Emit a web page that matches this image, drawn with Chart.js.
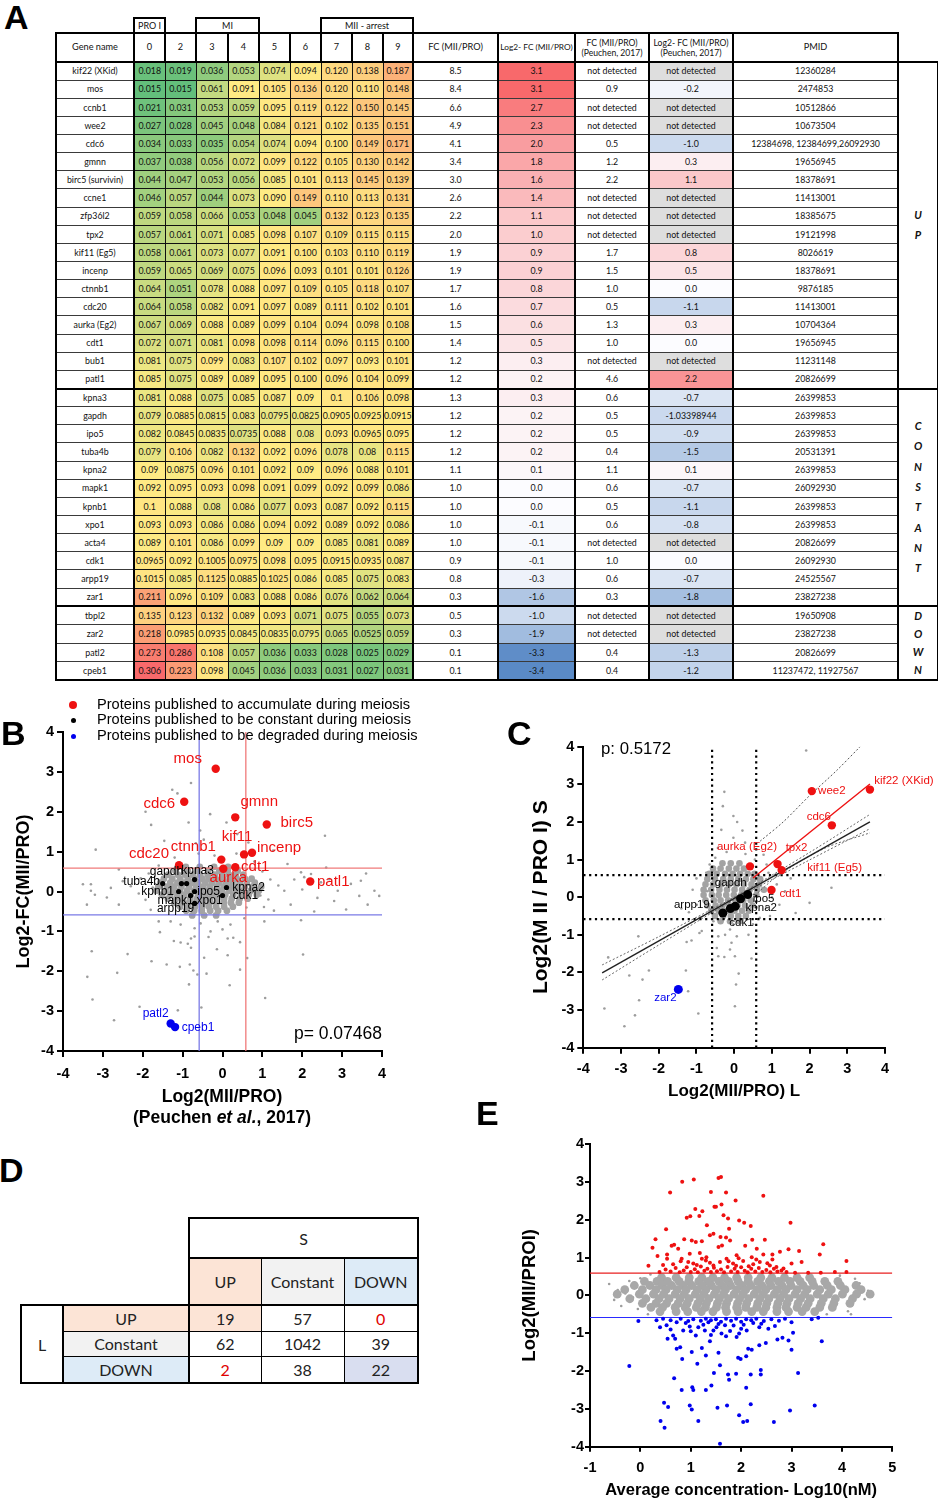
<!DOCTYPE html>
<html lang="en">
<head>
  <meta charset="UTF-8">
  <title>Protein levels during meiosis (A-E)</title>
  <script src="https://cdn.jsdelivr.net/npm/chart.js"></script>
  <style>
    * { margin: 0; padding: 0; box-sizing: border-box; }
    body { position: relative; width: 938px; height: 1500px; background: #fff; font-family: 'Liberation Sans', Arial, sans-serif; color: #000; overflow: hidden; }
    .letter { position: absolute; font-size: 34px; line-height: 34px; font-weight: bold; }
    .txt { position: absolute; white-space: nowrap; }
    canvas { position: absolute; }

    /* panel A table */
    #tableA { position: absolute; left: 55px; top: 17px; border-collapse: collapse; table-layout: fixed; width: 882px; font-family: Lato, sans-serif; font-size: 8.8px; color: #111; }
    #tableA td { padding: 0; text-align: center; white-space: nowrap; overflow: hidden; border: 1px solid #3a3a3a; line-height: 1.1; }
    #tableA tr.grp { height: 15px; }
    #tableA tr.grp td { border: none; font-size: 9px; }
    #tableA tr.grp td.box { border: 2px solid #000; }
    #tableA tr.head { height: 29px; }
    #tableA tr.head td { border: 2px solid #000; font-size: 9.2px; }
    #tableA tr.head td.narrow { font-size: 8.3px; }
    #tableA tr.head td.two { font-size: 8.6px; line-height: 10px; }
    #tableA tr.head td.blank { border: none; }
    #tableA tr.row { height: 18.15px; }
    #tableA td.heat { border-color: #111; }
    #tableA td.tl { border-left: 2px solid #000; }
    #tableA td.side { border: 2px solid #000; font-weight: bold; font-style: italic; font-size: 11px; }
    #tableA tr.gstart td { border-top: 2.5px solid #000; }
    #tableA tr.last td { border-bottom: 2px solid #000; }

    /* panel D table */
    #tableD { position: absolute; left: 20px; top: 1217px; border-collapse: collapse; table-layout: fixed; width: 397px; font-family: Lato, sans-serif; font-size: 16px; color: #222; }
    #tableD td { padding: 0; text-align: center; border: 1px solid #000; }
    #tableD td.none { border: none; }
    #tableD td.thick { border: 2px solid #000; }
    #tableD td.tl { border-left: 2px solid #000; }
    #tableD td.tr { border-right: 2px solid #000; }
    #tableD tr.bodytop td { border-top: 2px solid #000; }
    #tableD tr.bodyend td { border-bottom: 2px solid #000; }
  </style>
</head>

<body>
  <table id="tableA"></table>
  <table id="tableD"></table>

  <canvas id="chartB" width="440" height="450" style="left:0; top:690px;"></canvas>
  <canvas id="chartC" width="438" height="420" style="left:500px; top:690px;"></canvas>
  <canvas id="chartE" width="448" height="400" style="left:490px; top:1100px;"></canvas>

  <!-- legend of panel B -->
  <div class="txt" style="left:69px; top:701px; width:8px; height:8px; border-radius:50%; background:#ee1111;"></div>
  <div class="txt" style="left:70.5px; top:718px; width:5px; height:5px; border-radius:50%; background:#000;"></div>
  <div class="txt" style="left:70.5px; top:733.5px; width:5px; height:5px; border-radius:50%; background:#0000ee;"></div>
  <div class="txt" style="left:97px; top:697px; font-size:14.6px; line-height:15.4px;">
    Proteins published to accumulate during meiosis<br>
    Proteins published to be constant during meiosis<br>
    Proteins published to be degraded during meiosis
  </div>

  <div class="txt" style="left:22px; top:1086px; width:400px; text-align:center; font-size:17.5px; line-height:21px; font-weight:bold;">
    Log2(MII/PRO)<br>(Peuchen <i>et al.</i>, 2017)
  </div>
  <div class="txt" style="left:232px; top:1023px; width:150px; text-align:right; font-size:17.5px; line-height:21px;">p= 0.07468</div>
  <div class="txt" style="left:601px; top:739px; font-size:16.8px; line-height:20px;">p: 0.5172</div>

  <div class="letter" style="left:4px; top:0px;">A</div>
  <div class="letter" style="left:1px; top:716px;">B</div>
  <div class="letter" style="left:507px; top:716px;">C</div>
  <div class="letter" style="left:-1px; top:1153px;">D</div>
  <div class="letter" style="left:476px; top:1096px;">E</div>

  <script>
    // ---------- Panel A: table data ----------
    const genes = ['kif22 (XKid)', 'mos', 'ccnb1', 'wee2', 'cdc6', 'gmnn', 'birc5 (survivin)', 'ccne1', 'zfp36l2', 'tpx2',
      'kif11 (Eg5)', 'incenp', 'ctnnb1', 'cdc20', 'aurka (Eg2)', 'cdt1', 'bub1', 'patl1',
      'kpna3', 'gapdh', 'ipo5', 'tuba4b', 'kpna2', 'mapk1', 'kpnb1', 'xpo1', 'acta4', 'cdk1', 'arpp19', 'zar1',
      'tbpl2', 'zar2', 'patl2', 'cpeb1'];
    const timepoints = ['0', '2', '3', '4', '5', '6', '7', '8', '9'];
    const groupNames = ['UP', 'CONSTANT', 'DOWN'];
    const groupSizes = [18, 12, 4];

    // relative abundance per timepoint (text kept as printed)
    const heatValues = [
      ['0.018', '0.019', '0.036', '0.053', '0.074', '0.094', '0.120', '0.138', '0.187'],
      ['0.015', '0.015', '0.061', '0.091', '0.105', '0.136', '0.120', '0.110', '0.148'],
      ['0.021', '0.031', '0.053', '0.059', '0.095', '0.119', '0.122', '0.150', '0.145'],
      ['0.027', '0.028', '0.045', '0.048', '0.084', '0.121', '0.102', '0.135', '0.151'],
      ['0.034', '0.033', '0.035', '0.054', '0.074', '0.094', '0.100', '0.149', '0.171'],
      ['0.037', '0.038', '0.056', '0.072', '0.099', '0.122', '0.105', '0.130', '0.142'],
      ['0.044', '0.047', '0.053', '0.056', '0.085', '0.101', '0.113', '0.145', '0.139'],
      ['0.046', '0.057', '0.044', '0.073', '0.090', '0.149', '0.110', '0.113', '0.131'],
      ['0.059', '0.058', '0.066', '0.053', '0.048', '0.045', '0.132', '0.123', '0.135'],
      ['0.057', '0.061', '0.071', '0.085', '0.098', '0.107', '0.109', '0.115', '0.115'],
      ['0.058', '0.061', '0.073', '0.077', '0.091', '0.100', '0.103', '0.110', '0.119'],
      ['0.059', '0.065', '0.069', '0.075', '0.096', '0.093', '0.101', '0.101', '0.126'],
      ['0.064', '0.051', '0.078', '0.088', '0.097', '0.109', '0.105', '0.118', '0.107'],
      ['0.064', '0.058', '0.082', '0.091', '0.097', '0.089', '0.111', '0.102', '0.101'],
      ['0.067', '0.069', '0.088', '0.089', '0.099', '0.104', '0.094', '0.098', '0.108'],
      ['0.072', '0.071', '0.081', '0.098', '0.098', '0.114', '0.096', '0.115', '0.100'],
      ['0.081', '0.075', '0.099', '0.083', '0.107', '0.102', '0.097', '0.093', '0.101'],
      ['0.085', '0.075', '0.089', '0.089', '0.095', '0.100', '0.096', '0.104', '0.099'],
      ['0.081', '0.088', '0.075', '0.085', '0.087', '0.09', '0.1', '0.106', '0.098'],
      ['0.079', '0.0885', '0.0815', '0.083', '0.0795', '0.0825', '0.0905', '0.0925', '0.0915'],
      ['0.082', '0.0845', '0.0835', '0.0735', '0.088', '0.08', '0.093', '0.0965', '0.095'],
      ['0.079', '0.106', '0.082', '0.132', '0.092', '0.096', '0.078', '0.08', '0.115'],
      ['0.09', '0.0875', '0.096', '0.101', '0.092', '0.09', '0.096', '0.088', '0.101'],
      ['0.092', '0.095', '0.093', '0.098', '0.091', '0.099', '0.092', '0.099', '0.086'],
      ['0.1', '0.088', '0.08', '0.086', '0.077', '0.093', '0.087', '0.092', '0.115'],
      ['0.093', '0.093', '0.086', '0.086', '0.094', '0.092', '0.089', '0.092', '0.086'],
      ['0.089', '0.101', '0.086', '0.099', '0.09', '0.09', '0.085', '0.081', '0.089'],
      ['0.0965', '0.092', '0.1005', '0.0975', '0.098', '0.095', '0.0915', '0.0935', '0.087'],
      ['0.1015', '0.085', '0.1125', '0.0885', '0.1025', '0.086', '0.085', '0.075', '0.083'],
      ['0.211', '0.096', '0.109', '0.083', '0.088', '0.086', '0.076', '0.062', '0.064'],
      ['0.135', '0.123', '0.132', '0.089', '0.093', '0.071', '0.075', '0.055', '0.073'],
      ['0.218', '0.0985', '0.0935', '0.0845', '0.0835', '0.0795', '0.065', '0.0525', '0.059'],
      ['0.273', '0.286', '0.108', '0.057', '0.036', '0.033', '0.028', '0.025', '0.029'],
      ['0.306', '0.223', '0.098', '0.045', '0.036', '0.033', '0.031', '0.027', '0.031']
    ];
    const fcMII = ['8.5', '8.4', '6.6', '4.9', '4.1', '3.4', '3.0', '2.6', '2.2', '2.0', '1.9', '1.9', '1.7', '1.6', '1.5', '1.4', '1.2', '1.2',
      '1.3', '1.2', '1.2', '1.2', '1.1', '1.0', '1.0', '1.0', '1.0', '0.9', '0.8', '0.3', '0.5', '0.3', '0.1', '0.1'];
    const log2MII = ['3.1', '3.1', '2.7', '2.3', '2.0', '1.8', '1.6', '1.4', '1.1', '1.0', '0.9', '0.9', '0.8', '0.7', '0.6', '0.5', '0.3', '0.2',
      '0.3', '0.2', '0.2', '0.2', '0.1', '0.0', '0.0', '-0.1', '-0.1', '-0.1', '-0.3', '-1.6', '-1.0', '-1.9', '-3.3', '-3.4'];
    const fcPeuchen = [null, '0.9', null, null, '0.5', '1.2', '2.2', null, null, null, '1.7', '1.5', '1.0', '0.5', '1.3', '1.0', null, '4.6',
      '0.6', '0.5', '0.5', '0.4', '1.1', '0.6', '0.5', '0.6', null, '1.0', '0.6', '0.3', null, null, '0.4', '0.4'];
    const log2Peuchen = [null, '-0.2', null, null, '-1.0', '0.3', '1.1', null, null, null, '0.8', '0.5', '0.0', '-1.1', '0.3', '0.0', null, '2.2',
      '-0.7', '-1.03398944', '-0.9', '-1.5', '0.1', '-0.7', '-1.1', '-0.8', null, '0.0', '-0.7', '-1.8', null, null, '-1.3', '-1.2'];
    const pmids = ['12360284', '2474853', '10512866', '10673504', '12384698, 12384699,26092930', '19656945', '18378691', '11413001',
      '18385675', '19121998', '8026619', '18378691', '9876185', '11413001', '10704364', '19656945', '11231148', '20826699',
      '26399853', '26399853', '26399853', '20531391', '26399853', '26092930', '26399853', '26399853', '20826699', '26092930',
      '24525567', '23827238', '19650908', '23827238', '20826699', '11237472, 11927567'];

    // ---------- Panel D data ----------
    const dCategories = ['UP', 'Constant', 'DOWN'];
    const dCounts = [[19, 57, 0], [62, 1042, 39], [2, 38, 22]];

    // ---------- Panel B data: Log2(MII/PRO) Peuchen (x) vs Log2-FC (y) ----------
    const foldCut = 0.585; // log2(1.5)
    const bUpNames = ['mos', 'cdc6', 'gmnn', 'birc5', 'kif11', 'incenp', 'ctnnb1', 'cdc20', 'cdt1', 'aurka', 'patl1'];
    const bUpX = [-0.17, -0.96, 0.32, 1.11, 0.54, 0.74, -0.03, -1.09, 0.32, 0.02, 2.2];
    const bUpY = [3.08, 2.25, 1.86, 1.68, 0.93, 0.97, 0.8, 0.66, 0.61, 0.57, 0.25];
    const bConstNames = ['tuba4b', 'gapdh', 'kpna3', 'ipo5', 'kpnb1', 'mapk1', 'xpo1', 'arpp19', 'kpna2', 'cdk1'];
    const bConstX = [-1.5, -1.03, -0.7, -0.9, -1.1, -0.7, -0.8, -0.7, 0.1, 0.0];
    const bConstY = [0.2, 0.2, 0.3, 0.2, 0.0, 0.0, -0.1, -0.3, 0.1, -0.1];
    const bDownNames = ['patl2', 'cpeb1'];
    const bDownX = [-1.3, -1.19];
    const bDownY = [-3.31, -3.4];
    const bGray = [[-0.79, 2.72], [-1.26, 2.55], [-1.13, 2.46], [-1.93, 2.0], [-1.79, 1.67], [2.57, 1.40], [-3.18, 1.05], [-0.56, 1.53],
      [-0.85, 1.73], [-1.46, 1.27], [-0.47, 1.30], [0.37, 1.44], [0.65, 1.23], [0.1, 1.73], [-0.31, 1.94], [-0.67, 1.21], [1.27, 1.03],
      [1.63, 0.69], [1.97, 0.48], [2.05, 0.36], [2.22, 0.44], [2.47, 0.23], [2.68, 0.31], [2.89, 0.02], [3.22, 0.19], [3.43, -0.11],
      [3.64, -0.33], [3.93, -0.11], [3.81, 0.02], [3.47, 0.27], [2.8, -0.24], [2.38, -0.16], [1.97, -0.72], [1.71, -0.33], [1.55, 0.02],
      [1.29, -0.48], [1.04, -0.39], [-3.3, 0.02], [-3.5, 0.18], [-3.3, 0.18], [-2.8, 0.09], [-2.5, 0.26], [-2.3, 0.13], [-2.05, 0.33],
      [-3.2, -0.08], [-3.4, -0.33], [-2.6, -0.33], [-1.93, -0.21], [-1.8, -0.46], [-1.6, -0.75], [-1.3, -0.75], [-1.05, -0.83],
      [-0.7, -0.92], [-0.12, -0.75], [0.2, -0.83], [0.55, -0.67], [1.05, -0.75], [-1.57, -1.02], [-3.28, -1.50], [-2.38, -1.57],
      [-1.78, -1.75], [-3.39, -2.14], [-2.64, -2.04], [-1.4, -1.83], [-1.07, -1.89], [-0.82, -1.83], [-0.73, -1.98], [-0.63, -2.08],
      [-0.4, -2.06], [-0.84, -2.33], [-3.26, -2.71], [-2.08, -2.89], [-1.12, -2.98], [-0.53, -2.91], [-2.72, -3.23], [0.18, -2.35],
      [0.44, -1.96], [0.13, -1.6], [0.62, -1.67], [2.02, -1.58], [1.07, -2.67], [-0.35, -1.14], [-0.46, -1.66], [-0.14, -1.45],
      [0.13, -1.18], [0.27, -1.16], [0.44, -1.27], [-0.79, -1.18], [-0.87, -1.31], [-0.79, -1.41], [-1.22, -1.24], [-1.05, -1.28],
      [-0.7, -1.13], [1.0, 0.5], [1.2, 0.3], [1.4, 0.15], [0.95, -0.1], [1.15, -0.2], [-1.85, 0.45], [-2.1, -0.05], [-1.75, 0.1],
      [0.8, 0.75], [-1.6, 0.65], [-0.2, 0.9], [-0.6, 0.95], [0.35, 0.95], [-1.2, 0.85], [0.6, -0.4], [-0.3, -1.0], [0.0, -0.95],
      [-0.55, -0.8], [2.0, 0.05], [2.6, 0.6], [3.1, -0.45], [3.6, 0.45], [2.3, -0.5], [1.8, 0.3], [-2.6, 0.55], [-2.9, -0.15]];
    // dense core of the cloud, read row by row: [y, [x...]]
    const bCoreRows = [
      [0.62, [-0.92, -0.57, -0.21, 0.14]],
      [0.52, [-1.18, -0.87, -0.63, -0.36, -0.08, 0.13, 0.38]],
      [0.42, [-1.36, -1.12, -0.93, -0.74, -0.56, -0.37, -0.19, -0.01, 0.16, 0.33, 0.52]],
      [0.32, [-1.47, -1.26, -1.06, -0.87, -0.69, -0.51, -0.35, -0.17, 0.01, 0.18, 0.36, 0.56, 0.73]],
      [0.22, [-1.56, -1.31, -1.13, -0.96, -0.77, -0.61, -0.43, -0.26, -0.09, 0.08, 0.25, 0.43, 0.61, 0.81]],
      [0.12, [-1.61, -1.39, -1.21, -1.03, -0.84, -0.66, -0.49, -0.32, -0.14, 0.03, 0.21, 0.38, 0.56, 0.76, 0.97]],
      [0.02, [-1.66, -1.43, -1.25, -1.07, -0.89, -0.71, -0.54, -0.37, -0.19, -0.02, 0.16, 0.33, 0.51, 0.71, 0.91]],
      [-0.08, [-1.52, -1.31, -1.13, -0.96, -0.79, -0.61, -0.44, -0.27, -0.1, 0.07, 0.27, 0.46, 0.66, 0.86]],
      [-0.18, [-1.37, -1.16, -0.99, -0.81, -0.64, -0.47, -0.31, -0.13, 0.04, 0.23, 0.43, 0.63]],
      [-0.28, [-1.21, -1.01, -0.84, -0.67, -0.49, -0.32, -0.15, 0.03, 0.21, 0.41]],
      [-0.38, [-1.06, -0.86, -0.69, -0.51, -0.34, -0.16, 0.04, 0.26]],
      [-0.48, [-0.91, -0.71, -0.52, -0.31, -0.11, 0.11]],
      [-0.6, [-0.76, -0.46, -0.16]]
    ];

    // ---------- Panel C data: Log2(MII/PRO) L (x) vs S (y) ----------
    const cUpNames = ['kif22 (XKid)', 'wee2', 'cdc6', 'aurka (Eg2)', 'tpx2', 'kif11 (Eg5)', 'cdt1'];
    const cUpX = [3.6, 2.06, 2.59, 0.42, 1.15, 1.26, 0.99];
    const cUpY = [2.86, 2.82, 1.91, 0.82, 0.88, 0.72, 0.19];
    const cConstNames = ['gapdh', 'ipo5', 'kpna2', 'arpp19', 'cdk1'];
    const cConstX = [0.36, 0.17, 0.03, -0.3, -0.1];
    const cConstY = [0.07, -0.04, -0.24, -0.42, -0.3];
    const cDownNames = ['zar2'];
    const cDownX = [-1.48];
    const cDownY = [-2.45];
    const cFitAll = [[-3.5, -2.01], [3.6, 2.0]];
    const cFitAllUpper = [[-3.5, -1.8], [-2, -1.05], [0, 0.0], [2, 1.19], [3.6, 2.2]];
    const cFitAllLower = [[-3.5, -2.2], [-2, -1.27], [0, -0.07], [2, 0.99], [3.6, 1.82]];
    const cFitUp = [[0.5, 0.51], [3.6, 3.01]];
    const cFitUpUpper = [[0.69, 1.49], [1.3, 2.0], [2.0, 2.7], [2.7, 3.35], [3.34, 4.0]];
    const cFitUpLower = [[0.55, 0.05], [1.2, 0.6], [2.4, 1.3], [3.6, 1.71]];
    const cGray = [[1.91, 3.9], [-0.26, 2.8], [-0.3, 2.42], [-0.02, 2.16], [0.08, 2.0], [0.22, 1.77], [-0.34, 1.79], [-0.02, 1.58],
      [0.29, 1.45], [-0.43, 1.31], [-0.65, 0.87], [-0.74, 0.65], [0.78, 1.13], [0.86, 0.87], [0.91, 0.65], [1.13, 0.34], [1.35, 0.16],
      [2.58, 0.25], [2.0, -0.15], [1.63, -0.42], [0.86, -0.28], [0.68, -0.55], [0.5, -0.72], [-0.02, -0.72], [-0.55, -0.64],
      [-0.91, -0.55], [-0.99, -0.2], [-0.72, 0.16], [-0.86, -0.9], [-0.92, -0.95], [-0.42, -1.04], [-0.11, -0.86], [0.07, -1.04],
      [0.38, -1.0], [-0.24, -1.0], [-0.46, -1.35], [-0.42, -1.57], [-0.26, -1.59], [-0.11, -1.39], [-0.07, -1.21], [0.02, -1.57],
      [0.46, -1.63], [0.12, -2.03], [0.05, -2.32], [0.02, -2.9], [-2.54, -1.04], [-3.34, -1.6], [-2.78, -2.08], [-2.26, -1.95],
      [-2.43, -2.19], [-2.52, -2.74], [-3.44, -2.96], [-2.63, -3.14], [-2.91, -3.43], [-1.28, -1.95], [-1.22, -2.5], [-0.95, -3.09],
      [-1.26, -1.19], [-1.13, -1.15], [-1.1, 0.2], [-1.0, 0.5], [1.0, 0.0], [1.1, 0.6], [0.95, -0.5], [-1.2, -0.4], [0.55, 1.0],
      [0.3, 1.15], [-0.2, 1.2], [-0.5, 1.05], [1.5, 0.5], [1.2, -0.2], [-1.4, -0.3]];
    const cCoreRows = [
      [0.9, [-0.31, -0.09, 0.14]],
      [0.76, [-0.56, -0.36, -0.14, 0.06, 0.26]],
      [0.62, [-0.66, -0.46, -0.24, -0.04, 0.16, 0.36, 0.54]],
      [0.48, [-0.71, -0.51, -0.29, -0.09, 0.11, 0.31, 0.51, 0.69]],
      [0.34, [-0.76, -0.56, -0.34, -0.14, 0.06, 0.26, 0.46, 0.66]],
      [0.2, [-0.81, -0.61, -0.39, -0.19, 0.01, 0.21, 0.41, 0.61, 0.79]],
      [0.06, [-0.81, -0.59, -0.41, -0.21, -0.01, 0.19, 0.39, 0.59]],
      [-0.08, [-0.76, -0.54, -0.36, -0.16, 0.04, 0.24, 0.44]],
      [-0.22, [-0.71, -0.49, -0.31, -0.11, 0.09, 0.29, 0.49]],
      [-0.36, [-0.61, -0.41, -0.19, 0.01, 0.21, 0.39]],
      [-0.5, [-0.51, -0.29, -0.09, 0.11, 0.31]],
      [-0.64, [-0.36, -0.11, 0.14]]
    ];

    // ---------- Panel E data: concentration (x) vs Log2(MII/PROI) (y) ----------
    const eUp = [[0.16, 0.78], [0.24, 1.26], [0.30, 1.48], [0.34, 1.04], [0.51, 1.75], [0.59, 2.72], [0.62, 1.31], [0.67, 1.34],
      [0.53, 1.08], [0.53, 0.97], [0.83, 3.0], [1.06, 3.06], [0.92, 2.05], [0.99, 2.09], [1.09, 2.28], [1.17, 2.10], [1.23, 2.22],
      [0.87, 1.48], [1.02, 1.45], [1.10, 1.41], [1.22, 1.43], [1.32, 1.85], [1.38, 1.59], [1.45, 1.63], [1.40, 2.73], [1.47, 2.34],
      [1.50, 2.34], [1.55, 3.10], [1.60, 3.13], [1.61, 2.40], [1.70, 2.72], [1.65, 2.12], [1.89, 2.51], [1.96, 1.98], [2.06, 1.92],
      [2.19, 1.83], [2.44, 2.63], [1.74, 2.03], [1.76, 1.76], [1.59, 1.54], [1.70, 1.53], [1.78, 1.45], [1.55, 1.28], [1.62, 1.32],
      [2.08, 1.31], [2.22, 1.47], [2.47, 1.47], [2.31, 1.23], [2.98, 1.92], [2.94, 1.22], [3.15, 1.17], [3.63, 1.35], [3.56, 1.08],
      [4.09, 0.91], [3.86, 0.62], [4.09, 0.62], [3.58, 0.60], [3.33, 0.60], [3.07, 0.60], [3.20, 0.88], [3.0, 0.84], [2.77, 1.15],
      [2.62, 1.08], [2.44, 1.08], [2.21, 1.01], [1.91, 1.06], [1.31, 1.01], [1.18, 1.12], [0.98, 1.10], [0.75, 1.23], [0.82, 0.97],
      [0.95, 0.88], [1.05, 0.84], [1.22, 0.97], [1.38, 0.86], [1.58, 0.88], [1.71, 0.97], [1.84, 0.84], [2.04, 0.91], [2.24, 0.82],
      [2.37, 0.88], [2.57, 0.79], [2.70, 0.75], [2.84, 0.71], [0.38, 0.62], [0.5, 0.68], [0.6, 0.63], [0.7, 0.72], [0.78, 0.61],
      [0.86, 0.66], [0.92, 0.74], [1.0, 0.62], [1.08, 0.69], [1.14, 0.61], [1.2, 0.76], [1.27, 0.65], [1.33, 0.7], [1.4, 0.62],
      [1.46, 0.73], [1.52, 0.64], [1.6, 0.68], [1.66, 0.61], [1.73, 0.75], [1.8, 0.63], [1.87, 0.7], [1.93, 0.62], [2.0, 0.74],
      [2.07, 0.65], [2.13, 0.61], [2.2, 0.7], [2.28, 0.63], [2.35, 0.72], [2.42, 0.62], [2.5, 0.67], [2.58, 0.61], [2.65, 0.7],
      [2.72, 0.63], [2.8, 0.66], [0.45, 0.8], [0.65, 0.82], [1.12, 0.8], [1.45, 0.79], [1.9, 0.78], [2.15, 0.77], [2.52, 0.85],
      [2.9, 0.62], [1.3, 0.92], [1.75, 0.9], [0.8, 0.9], [2.62, 0.95], [2.3, 0.95], [1.95, 0.98]];
    const eDown = [[-0.04, -0.68], [-0.22, -1.87], [0.32, -0.66], [0.39, -0.84], [0.52, -0.79], [0.54, -1.15], [0.65, -1.06],
      [0.69, -1.15], [0.72, -1.41], [0.79, -1.37], [0.83, -1.68], [0.67, -2.19], [0.82, -2.50], [0.47, -2.84], [0.55, -2.95],
      [0.40, -3.32], [0.48, -3.50], [0.98, -2.91], [1.02, -3.02], [1.03, -2.43], [1.05, -2.50], [1.02, -1.50], [1.13, -1.81],
      [1.15, -3.32], [1.30, -2.50], [1.41, -2.38], [1.46, -2.05], [1.22, -1.39], [1.30, -1.59], [1.38, -1.21], [1.55, -1.52],
      [1.53, -2.97], [1.58, -1.85], [1.58, -3.92], [1.72, -2.91], [1.74, -2.09], [1.76, -2.23], [1.90, -2.07], [1.94, -1.65],
      [1.99, -1.68], [1.96, -3.17], [2.04, -3.35], [2.12, -3.32], [2.10, -2.44], [2.10, -1.61], [2.14, -1.41], [2.21, -1.44],
      [2.19, -2.09], [2.19, -2.88], [2.39, -1.97], [2.39, -2.09], [2.36, -1.32], [2.49, -1.26], [2.65, -3.35], [2.72, -1.17],
      [2.82, -1.12], [2.94, -1.19], [3.0, -1.44], [2.97, -3.04], [3.03, -0.99], [3.13, -2.05], [3.46, -2.91], [3.60, -1.21],
      [3.40, -0.63], [3.53, -0.59], [3.0, -0.71], [2.87, -0.62], [2.67, -0.81], [2.54, -0.88], [2.36, -0.84], [2.24, -0.73],
      [2.11, -0.93], [1.96, -1.01], [1.91, -1.10], [1.78, -0.94], [1.68, -0.79], [1.61, -1.01], [1.51, -0.84], [1.45, -0.93],
      [1.35, -0.71], [1.28, -0.93], [1.15, -0.84], [1.10, -1.06], [0.98, -0.82], [0.90, -0.73], [0.85, -0.93], [0.72, -0.71],
      [0.45, -0.62], [0.6, -0.66], [0.8, -0.62], [0.95, -0.68], [1.05, -0.63], [1.2, -0.67], [1.3, -0.62], [1.4, -0.66],
      [1.5, -0.63], [1.6, -0.7], [1.7, -0.62], [1.8, -0.67], [1.9, -0.62], [2.0, -0.7], [2.1, -0.63], [2.2, -0.66], [2.3, -0.62],
      [2.45, -0.68], [2.6, -0.63], [2.75, -0.67], [1.25, -0.78], [1.55, -0.76], [1.85, -0.8], [2.05, -0.78], [2.4, -0.75],
      [1.0, -0.95], [1.4, -1.05], [1.7, -1.08], [2.0, -0.88], [0.6, -0.9]];
    const eGray = [[-0.62, 0.3], [-0.45, 0.14], [-0.52, -0.12], [-0.38, -0.28], [-0.22, 0.38], [-0.05, -0.36], [-0.3, 0.05],
      [0.0, 0.45], [0.15, -0.5], [4.42, 0.2], [4.52, 0.12], [4.6, 0.06], [4.2, -0.26], [4.12, -0.42], [4.18, -0.5], [4.26, 0.44],
      [3.96, 0.52], [4.45, -0.1], [4.35, 0.32], [3.7, -0.5], [0.2, 0.55], [-0.15, -0.05]];
    const eCoreRows = [
      [0.47, [0.42, 0.71, 0.97, 1.22, 1.44, 1.67, 1.91, 2.14, 2.39, 2.61, 2.86, 3.11, 3.36]],
      [0.37, [0.08, 0.33, 0.54, 0.77, 0.96, 1.16, 1.35, 1.56, 1.75, 1.94, 2.14, 2.33, 2.56, 2.74, 2.97, 3.17, 3.41, 3.66, 3.92]],
      [0.26, [-0.12, 0.19, 0.43, 0.62, 0.84, 1.02, 1.23, 1.41, 1.62, 1.79, 2.01, 2.19, 2.41, 2.59, 2.81, 2.99, 3.23, 3.44, 3.71, 3.97, 4.28]],
      [0.15, [-0.31, 0.04, 0.31, 0.51, 0.73, 0.91, 1.13, 1.3, 1.51, 1.69, 1.91, 2.09, 2.31, 2.49, 2.71, 2.89, 3.11, 3.31, 3.56, 3.79, 4.06, 4.38]],
      [0.03, [-0.46, -0.02, 0.26, 0.46, 0.69, 0.87, 1.09, 1.26, 1.47, 1.65, 1.86, 2.04, 2.26, 2.44, 2.66, 2.84, 3.07, 3.26, 3.51, 3.73, 4.01, 4.29, 4.56]],
      [-0.09, [-0.21, 0.11, 0.37, 0.57, 0.79, 0.97, 1.19, 1.36, 1.57, 1.75, 1.97, 2.15, 2.37, 2.55, 2.77, 2.95, 3.18, 3.37, 3.63, 3.87, 4.21]],
      [-0.21, [0.04, 0.31, 0.52, 0.75, 0.93, 1.14, 1.31, 1.53, 1.71, 1.93, 2.11, 2.33, 2.51, 2.73, 2.91, 3.13, 3.33, 3.59, 3.84, 4.16]],
      [-0.32, [0.21, 0.44, 0.69, 0.89, 1.11, 1.29, 1.51, 1.69, 1.91, 2.09, 2.31, 2.49, 2.71, 2.89, 3.11, 3.29, 3.56, 3.81]],
      [-0.43, [0.39, 0.71, 0.94, 1.21, 1.44, 1.71, 1.94, 2.21, 2.44, 2.71, 2.94, 3.21, 3.46]]
    ];

    // ---------- colour scales (Excel-like) ----------
    function mix(c1, c2, t) {
      t = Math.max(0, Math.min(1, t));
      return 'rgb(' + c1.map((v, i) => Math.round(v + (c2[i] - v) * t)).join(',') + ')';
    }
    const allHeat = heatValues.flat().map(Number).sort((a, b) => a - b);
    const heatMin = allHeat[0], heatMax = allHeat[allHeat.length - 1];
    const heatMid = allHeat[Math.floor(allHeat.length / 2)];
    function heatColor(v) {
      if (v <= heatMid) return mix([99, 190, 123], [255, 235, 132], (v - heatMin) / (heatMid - heatMin));
      return mix([255, 235, 132], [248, 105, 107], (v - heatMid) / (heatMax - heatMid));
    }
    const logVals = log2MII.map(Number);
    const logMin = Math.min(...logVals), logMax = Math.max(...logVals);
    function divColor(v) {
      if (v >= 0) return mix([252, 252, 255], [248, 105, 107], v / logMax);
      return mix([252, 252, 255], [90, 138, 198], v / logMin);
    }

    // ---------- build table A ----------
    const colWidthsA = [78, 31, 31, 32, 31, 31, 31, 31, 31, 30, 85, 77, 74, 84, 165, 40];
    const sideLineHeights = [20, 20.3, 18];
    let htmlA = '<colgroup>' + colWidthsA.map(w => `<col style="width:${w}px">`).join('') + '</colgroup>';
    htmlA += '<tr class="grp"><td></td><td class="box">PRO I</td><td></td><td class="box" colspan="2">MI</td>' +
      '<td></td><td></td><td class="box" colspan="3">MII - arrest</td><td colspan="6"></td></tr>';
    htmlA += '<tr class="head"><td>Gene name</td>' + timepoints.map(t => `<td>${t}</td>`).join('') +
      '<td>FC (MII/PRO)</td><td class="narrow">Log2- FC (MII/PRO)</td>' +
      '<td class="two">FC (MII/PRO)<br>(Peuchen, 2017)</td><td class="two">Log2- FC (MII/PRO)<br>(Peuchen, 2017)</td>' +
      '<td>PMID</td><td class="blank"></td></tr>';
    let groupStart = 0;
    const starts = groupSizes.map(n => { const s = groupStart; groupStart += n; return s; });
    genes.forEach((g, r) => {
      const gIdx = starts.indexOf(r);
      let cls = 'row' + (gIdx >= 0 ? ' gstart' : '') + (r === genes.length - 1 ? ' last' : '');
      let tr = `<tr class="${cls}"><td class="tl">${g}</td>`;
      heatValues[r].forEach((v, c) => {
        tr += `<td class="heat${c === 0 ? ' tl' : ''}" style="background:${heatColor(Number(v))}">${v}</td>`;
      });
      tr += `<td class="tl">${fcMII[r]}</td>`;
      tr += `<td class="tl" style="background:${divColor(Number(log2MII[r]))}">${log2MII[r]}</td>`;
      tr += `<td class="tl">${fcPeuchen[r] === null ? 'not detected' : fcPeuchen[r]}</td>`;
      const lp = log2Peuchen[r];
      tr += `<td class="tl" style="background:${lp === null ? '#dedede' : divColor(Number(lp))}">${lp === null ? 'not detected' : lp}</td>`;
      tr += `<td class="tl">${pmids[r]}</td>`;
      if (gIdx >= 0) {
        tr += `<td class="side" rowspan="${groupSizes[gIdx]}" style="line-height:${sideLineHeights[gIdx]}px">` +
          groupNames[gIdx].split('').join('<br>') + '</td>';
      }
      htmlA += tr + '</tr>';
    });
    document.getElementById('tableA').innerHTML = htmlA;

    // ---------- build table D ----------
    const catColors = ['#fce4d6', '#f2f2f2', '#ddebf7'];
    let htmlD = '<colgroup>' + [42, 126, 72, 83, 74].map(w => `<col style="width:${w}px">`).join('') + '</colgroup>';
    htmlD += '<tr style="height:40px"><td class="none" colspan="2"></td><td class="thick" colspan="3">S</td></tr>';
    htmlD += '<tr style="height:47px"><td class="none" colspan="2"></td>' +
      dCategories.map((c, i) => `<td class="${i === 0 ? 'tl' : ''}${i === 2 ? ' tr' : ''}" style="background:${catColors[i]}">${c}</td>`).join('') + '</tr>';
    const dHeights = [26, 25, 27];
    dCounts.forEach((row, r) => {
      let tr = `<tr class="${r === 0 ? 'bodytop' : ''}${r === 2 ? ' bodyend' : ''}" style="height:${dHeights[r]}px">`;
      if (r === 0) tr += '<td class="thick" rowspan="3">L</td>';
      tr += `<td class="tl" style="background:${catColors[r]}">${dCategories[r]}</td>`;
      row.forEach((n, c) => {
        let style = '';
        if (r === 0 && c === 0) style = 'background:#fce4d6;';
        if (r === 2 && c === 2) style = 'background:#d9def0;';
        if ((r === 0 && c === 2) || (r === 2 && c === 0)) style += 'color:#e00000;';
        tr += `<td class="${c === 0 ? 'tl' : ''}${c === 2 ? ' tr' : ''}" style="${style}">${n}</td>`;
      });
      htmlD += tr + '</tr>';
    });
    document.getElementById('tableD').innerHTML = htmlD;

    // ---------- chart helpers ----------
    const sans = "'Liberation Sans', Arial, sans-serif";
    Chart.defaults.font.family = sans;

    function xyPoints(xs, ys) { return xs.map((x, i) => ({ x: x, y: ys[i] })); }
    function pairPoints(list) { return list.map(p => ({ x: p[0], y: p[1] })); }
    function rowPoints(rows) {
      const out = [];
      rows.forEach(r => r[1].forEach(x => out.push({ x: x, y: r[0] })));
      return out;
    }

    function dots(points, color, radius, order) {
      return {
        data: points, backgroundColor: color, borderColor: color,
        pointRadius: radius, pointHoverRadius: radius, pointBorderWidth: 0, order: order
      };
    }
    function named(points, names, offsets, color, radius, font, order) {
      const ds = dots(points, color, radius, order);
      ds.pointNames = names;
      ds.nameOffsets = offsets;
      ds.nameFont = font;
      return ds;
    }
    function rule(points, color, width, dash, order, tension) {
      return {
        data: points, showLine: true, borderColor: color, borderWidth: width, borderDash: dash || [],
        pointRadius: 0, pointHoverRadius: 0, fill: false, order: order, tension: tension || 0
      };
    }

    // draws the gene names next to the highlighted points
    const pointNamesPlugin = {
      id: 'pointNames',
      afterDatasetsDraw(chart) {
        const ctx = chart.ctx;
        chart.data.datasets.forEach((ds, i) => {
          if (!ds.pointNames) return;
          const meta = chart.getDatasetMeta(i);
          ctx.save();
          ctx.font = ds.nameFont;
          ctx.fillStyle = ds.borderColor;
          ctx.textAlign = 'center';
          ctx.textBaseline = 'middle';
          meta.data.forEach((pt, j) => {
            const off = ds.nameOffsets[j];
            ctx.fillText(ds.pointNames[j], pt.x + off[0], pt.y + off[1]);
          });
          ctx.restore();
        });
      }
    };

    function axis(min, max, fit, horizontal, tickPad, tickLen, title) {
      return {
        type: 'linear', min: min, max: max,
        afterFit: function (a) { if (horizontal) a.height = fit; else a.width = fit; },
        ticks: { stepSize: 1, color: '#000', padding: tickPad, font: { size: 14.5, weight: 'bold' } },
        grid: { drawOnChartArea: false, drawTicks: true, tickLength: tickLen, color: '#000', lineWidth: 2 },
        border: { display: true, color: '#000', width: 2 },
        title: title || { display: false }
      };
    }
    function baseOptions(padding, xAxis, yAxis) {
      return {
        responsive: false, animation: false, events: [],
        layout: { padding: padding },
        plugins: { legend: { display: false }, tooltip: { enabled: false } },
        scales: { x: xAxis, y: yAxis }
      };
    }

    const red = '#ee1111', blue = '#0000ee', gray = '#9d9d9d', coreGray = '#a3a3a3';

    // ---------- panel B ----------
    new Chart(document.getElementById('chartB'), {
      type: 'scatter',
      data: {
        datasets: [
          named(xyPoints(bUpX, bUpY), bUpNames,
            [[-28, -10], [-25, 2], [24, -15], [30, -2], [-7, -18], [27, -5], [-28, -13], [-30, -11], [20, 0], [5, 9], [23, 0]],
            red, 4.2, "15px " + sans, 0),
          named(xyPoints(bConstX, bConstY), bConstNames,
            [[-21, -2], [-15, -12], [3, -9], [22, 8], [-21, 0], [-19, 9], [19, 5], [-19, 5], [22, 0], [23, 0]],
            '#000', 2.6, "12px " + sans, 1),
          named(xyPoints(bDownX, bDownY), bDownNames, [[-15, -10], [23, 1]], blue, 4.2, "12px " + sans, 1),
          rule([{ x: -4, y: foldCut }, { x: 4, y: foldCut }], '#f07a7a', 1.3, null, 2),
          rule([{ x: -4, y: -foldCut }, { x: 4, y: -foldCut }], '#7a7ae6', 1.3, null, 2),
          rule([{ x: foldCut, y: -4 }, { x: foldCut, y: 4 }], '#f07a7a', 1.3, null, 2),
          rule([{ x: -foldCut, y: -4 }, { x: -foldCut, y: 4 }], '#7a7ae6', 1.3, null, 2),
          dots(rowPoints(bCoreRows), coreGray, 3.4, 3),
          dots(pairPoints(bGray), gray, 1.3, 3)
        ]
      },
      options: baseOptions({ top: 42, right: 58, bottom: 0, left: 0 },
        axis(-4, 4, 89, true, 8, 6),
        axis(-4, 4, 63, false, 3, 6, {
          display: true, text: 'Log2-FC(MII/PRO)', color: '#000',
          font: { size: 18, weight: 'bold' }, padding: { top: 13, bottom: 0 }
        })),
      plugins: [pointNamesPlugin]
    });

    // ---------- panel C ----------
    const dotted = [2.2, 3.6];
    new Chart(document.getElementById('chartC'), {
      type: 'scatter',
      data: {
        datasets: [
          named(xyPoints(cUpX, cUpY), cUpNames,
            [[34, -9], [20, 0], [-13, -9], [-3, -20], [19, -16], [53, -2], [19, 4]],
            red, 4.2, "11.5px " + sans, 0),
          named(xyPoints(cConstX, cConstY), cConstNames,
            [[-17, -12], [23, 0], [26, 2], [-31, -8], [11, 14]],
            '#000', 4.5, "11.5px " + sans, 1),
          named(xyPoints(cDownX, cDownY), cDownNames, [[-13, 8]], blue, 4.5, "11.5px " + sans, 1),
          rule(pairPoints(cFitUp), '#ee1111', 1.4, null, 2),
          rule(pairPoints(cFitAll), '#222', 1.4, null, 2),
          rule(pairPoints(cFitAllUpper), '#666', 1, [2, 2], 2, 0.3),
          rule(pairPoints(cFitAllLower), '#666', 1, [2, 2], 2, 0.3),
          rule(pairPoints(cFitUpUpper), '#555', 1, [2, 2], 2, 0.3),
          rule(pairPoints(cFitUpLower), '#666', 1, [2, 2], 2, 0.3),
          rule([{ x: -4, y: foldCut }, { x: 4, y: foldCut }], '#000', 2.2, dotted, 2),
          rule([{ x: -4, y: -foldCut }, { x: 4, y: -foldCut }], '#000', 2.2, dotted, 2),
          rule([{ x: foldCut, y: -4 }, { x: foldCut, y: 4 }], '#000', 2.2, dotted, 2),
          rule([{ x: -foldCut, y: -4 }, { x: -foldCut, y: 4 }], '#000', 2.2, dotted, 2),
          dots(rowPoints(cCoreRows), coreGray, 3.3, 3),
          dots(pairPoints(cGray), gray, 1.3, 3)
        ]
      },
      options: baseOptions({ top: 56.7, right: 53, bottom: 0, left: 0 },
        axis(-4, 4, 62.3, true, 6.5, 6, {
          display: true, text: 'Log2(MII/PRO) L', color: '#000',
          font: { size: 17, weight: 'bold' }, padding: { top: 0, bottom: 8 }
        }),
        axis(-4, 4, 83.3, false, 3, 6, {
          display: true, text: 'Log2(M II / PRO I) S', color: '#000',
          font: { size: 21, weight: 'bold' }, padding: { top: 28.4, bottom: 0 }
        })),
      plugins: [pointNamesPlugin]
    });

    // ---------- panel E ----------
    new Chart(document.getElementById('chartE'), {
      type: 'scatter',
      data: {
        datasets: [
          dots(pairPoints(eUp), red, 2, 0),
          dots(pairPoints(eDown), blue, 2, 0),
          rule([{ x: -1, y: foldCut }, { x: 5, y: foldCut }], '#e82020', 1.2, null, 1),
          rule([{ x: -1, y: -foldCut }, { x: 5, y: -foldCut }], '#2a2aff', 1.2, null, 1),
          dots(rowPoints(eCoreRows), '#a8a8a8', 4.4, 2),
          dots(pairPoints(eGray), gray, 1.3, 2)
        ]
      },
      options: baseOptions({ top: 44, right: 45.7, bottom: 0, left: 0 },
        axis(-1, 5, 53.3, true, 7.5, 5, {
          display: true, text: 'Average concentration- Log10(nM)', color: '#000',
          font: { size: 16.5, weight: 'bold' }, padding: { top: 0, bottom: 0 }
        }),
        axis(-4, 4, 100, false, 1, 5, {
          display: true, text: 'Log2(MII/PROI)', color: '#000',
          font: { size: 18.5, weight: 'bold' }, padding: { top: 28.9, bottom: 0 }
        }))
    });
  </script>
</body>

</html>
